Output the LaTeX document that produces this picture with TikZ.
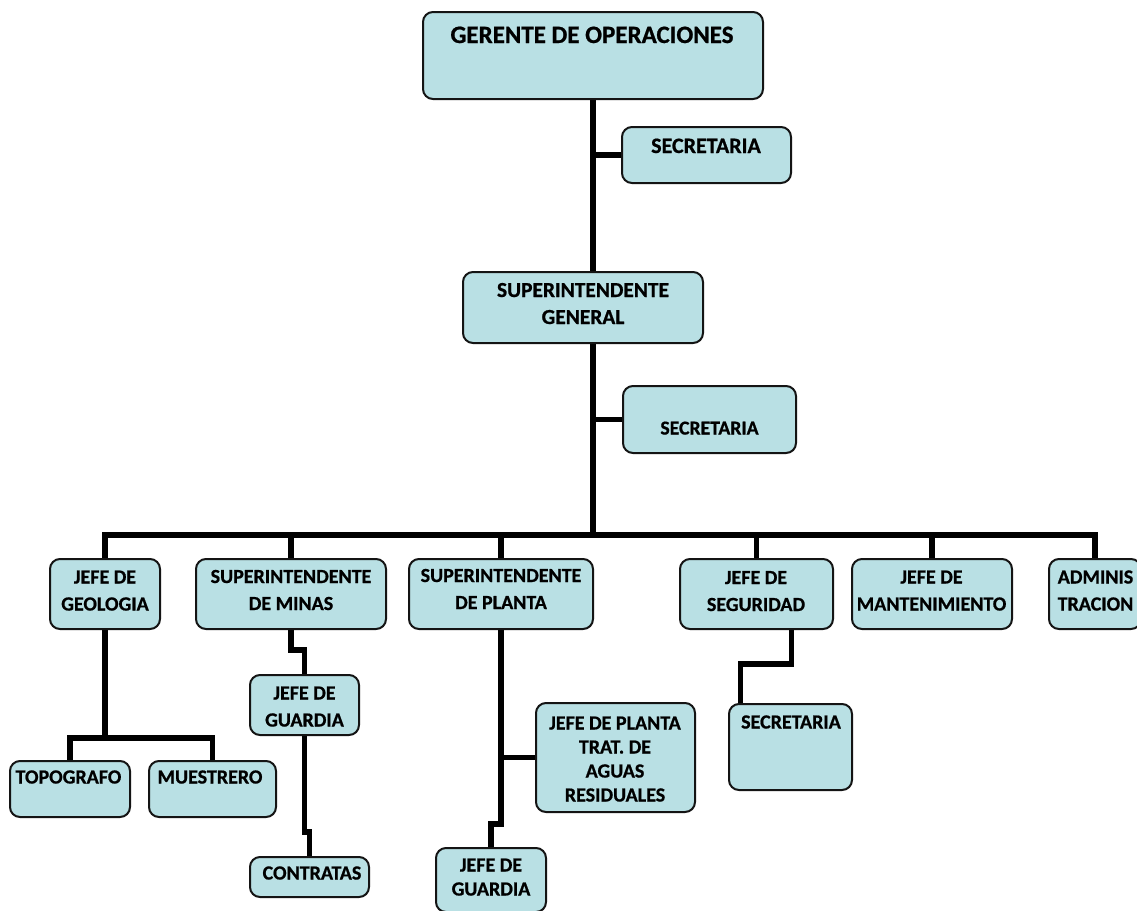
\documentclass[tikz,border=0pt]{standalone}
\usepackage{fontspec}
\setmainfont{Carlito}[BoldFeatures={FakeBold=0.8}]
\usetikzlibrary{backgrounds}
\definecolor{boxfill}{RGB}{185,224,228}
\definecolor{boxline}{RGB}{20,20,20}
\tikzset{
  box/.style={draw=boxline, line width=2pt, fill=boxfill, rounded corners=10pt, inner sep=0pt, outer sep=0pt},
  lbl/.style={inner sep=0pt, anchor=base, align=center, font=\bfseries\fontsize{#1}{27}\selectfont},
  lbl/.default=20,
  lblt/.style={inner sep=0pt, anchor=base, align=center, font=\bfseries\fontsize{#1}{24}\selectfont},
  lblt/.default=20,
  conn/.style={line width=5.5pt, draw=black, line join=miter},
}
\newcommand{\mybox}[5]{% name, x1, y1, x2, y2
  \node[box, minimum width={#4-#2}, minimum height={#5-#3}] (#1) at ({(#2+#4)/2},{(#3+#5)/2}) {};}
\begin{document}
\begin{tikzpicture}[x=1pt,y=-1pt]
\useasboundingbox (0,0) rectangle (1137,910);
% boxes
\mybox{gerente}{423}{12}{763}{99}
\mybox{sec1}{622}{127}{791}{183}
\mybox{supgen}{463}{272}{703}{343}
\mybox{sec2}{623}{386}{796}{453}
\mybox{geo}{50}{559}{160}{629}
\mybox{minas}{196}{559}{386}{629}
\mybox{planta}{409}{559}{593}{629}
\mybox{seg}{680}{559}{833}{629}
\mybox{mant}{852}{559}{1012}{629}
\mybox{admin}{1049}{559}{1141}{629}
\mybox{topo}{10}{761}{130}{817}
\mybox{muest}{149}{761}{276}{817}
\mybox{guard1}{250}{675}{359}{735}
\mybox{contr}{250}{857}{369}{897}
\mybox{trat}{536}{703}{695}{812}
\mybox{guard2}{436}{848}{546}{912}
\mybox{sec3}{729}{704}{852}{790}
% labels (anchor = baseline of the last line)
\node[lbl=25] (gerente-t) at (592,43) {GERENTE DE OPERACIONES};
\node[lbl=22] (sec1-t) at (706,153) {SECRETARIA};
\node[lbl=21.4] (supgen-t) at (583,324) {SUPERINTENDENTE\\GENERAL};
\node[lbl=19.7] (sec2-t) at (709.5,434.5) {SECRETARIA};
\node[lbl] (geo-t) at (105,610.5) {JEFE DE\\GEOLOGIA};
\node[lbl] (minas-t) at (291,610) {SUPERINTENDENTE\\DE MINAS};
\node[lbl] (planta-t) at (501,609) {SUPERINTENDENTE\\DE PLANTA};
\node[lbl] (seg-t) at (756,611) {JEFE DE\\SEGURIDAD};
\node[lbl] (mant-t) at (931.5,610.5) {JEFE DE\\MANTENIMIENTO};
\node[lbl] (admin-t) at (1095.5,610.5) {ADMINIS\\TRACION};
\node[lbl] (topo-t) at (68.5,783.5) {TOPOGRAFO};
\node[lbl] (muest-t) at (210,783.5) {MUESTRERO};
\node[lbl] (guard1-t) at (304.5,726.5) {JEFE DE\\GUARDIA};
\node[lbl] (contr-t) at (312,879.5) {CONTRATAS};
\node[lblt] (trat-t) at (615,801.5) {JEFE DE PLANTA\\TRAT. DE\\AGUAS\\RESIDUALES};
\node[lblt] (guard2-t) at (491,895.5) {JEFE DE\\GUARDIA};
\node[lbl] (sec3-t) at (791,728.5) {SECRETARIA};
% connectors
\coordinate (bus) at (593,535);
\coordinate (gj) at (105,738);
\coordinate (j1) at (298,650);
\coordinate (j2) at (308,832);
\coordinate (j3) at (496,824);
\coordinate (j4) at (765,664);
\begin{scope}[on background layer]
\fill[white] (0,0) rectangle (1137,910);
\draw[conn] (gerente.south) -- (gerente.south |- supgen.north);
\draw[conn] (sec1.west) -- (sec1.west -| gerente.south);
\draw[conn] (supgen.south -| gerente.south) -- (bus);
\draw[conn] (sec2.west) -- (sec2.west -| bus);
\draw[conn] (geo.north) |- (bus) -| (admin.north);
\draw[conn] (minas.north) -- (minas.north |- bus);
\draw[conn] (planta.north) -- (planta.north |- bus);
\draw[conn] (seg.north) -- (seg.north |- bus);
\draw[conn] (mant.north) -- (mant.north |- bus);
\draw[conn] (geo.south) -- (gj);
\draw[conn] (topo.north) |- (gj) -| (muest.north);
\draw[conn] (minas.south) |- (j1) -| (guard1.north);
\draw[conn] (guard1.south) |- (j2) -| (contr.north);
\draw[conn] (planta.south) |- (j3) -| (guard2.north);
\draw[conn] (trat.west) -- (trat.west -| planta.south);
\draw[conn] ([xshift=35pt]seg.south) |- (j4) -| ([xshift=-50pt]sec3.north);
\end{scope}
\end{tikzpicture}
\end{document}
